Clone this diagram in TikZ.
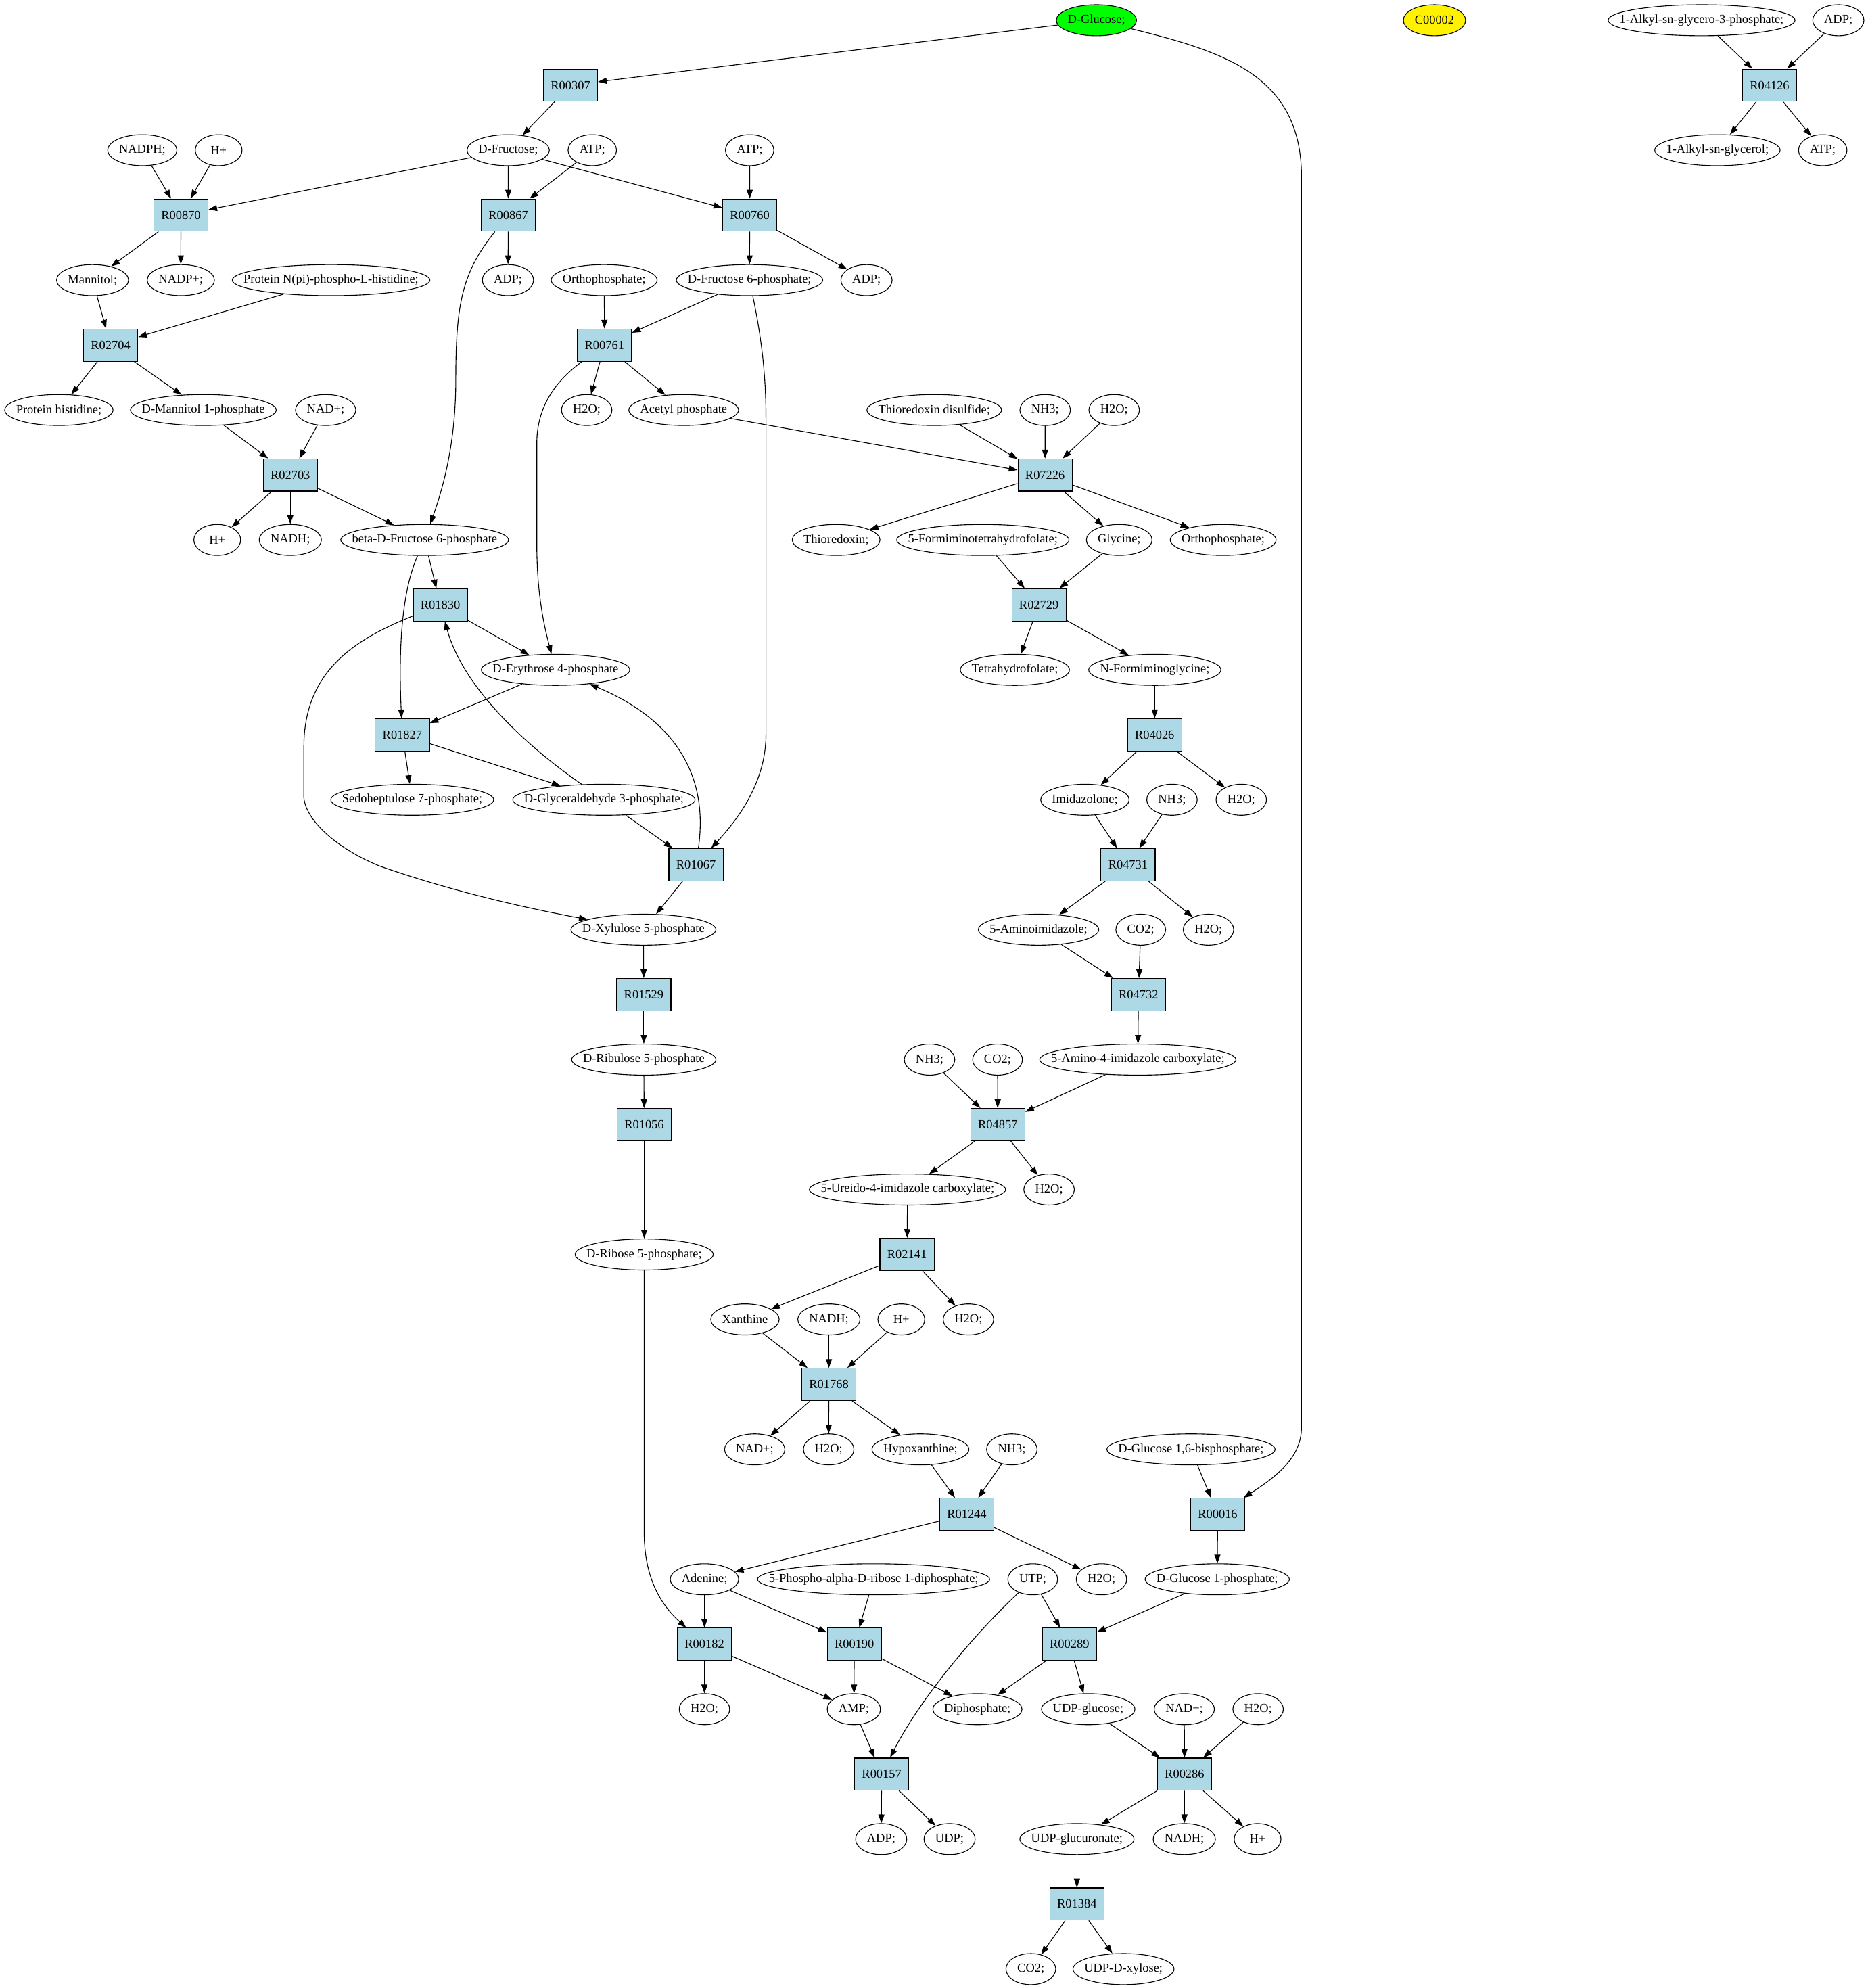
\documentclass[tikz,border=0pt]{standalone}
\usepackage{fontspec}
\setmainfont{Liberation Serif}
\usepackage{tikz}
\usetikzlibrary{shapes.geometric,arrows.meta}
\definecolor{rxnblue}{RGB}{173,216,230}
\newsavebox{\cpdbox}

\begin{document}
\begin{tikzpicture}[x=1pt, y=-1pt, line width=0.6pt, font=\fontsize{9.85}{11.8}\selectfont]
        \tikzstyle{reaction} = [rectangle, draw=black, fill=rxnblue, minimum width=42.8pt, minimum height=25.5pt, inner sep=0pt]
        \tikzstyle{compound} = [ellipse, draw=black, minimum width=37pt, minimum height=24.5pt, inner sep=0pt,
            execute at begin node={\setbox\cpdbox\hbox\bgroup},
            execute at end node={\egroup\makebox[\dimexpr(\wd\cpdbox+18pt)*707/1000\relax]{\usebox{\cpdbox}}}]
        \tikzstyle{arrow} = [->, >={Triangle[length=6.9pt,width=4.8pt]}]
        \useasboundingbox (0,0) rectangle (1475,1570);

        % row 0
        \node (glc) [compound, fill=green] at (866,16) {D-Glucose;};
        \node (c00002) [compound, fill=yellow] at (1133,16) {C00002};
        \node (alkylgp) [compound] at (1344,16) {1-Alkyl-sn-glycero-3-phosphate;};
        \node (adpA) [compound] at (1452,16) {ADP;};
        % row 1
        \node (r00307) [reaction] at (450.6,67.3) {R00307};
        \node (r04126) [reaction] at (1397.7,67.3) {R04126};
        % row 2
        \node (nadph) [compound] at (112.4,118.6) {NADPH;};
        \node (hA) [compound] at (172.7,118.6) {H+};
        \node (fru) [compound] at (401.4,118.6) {D-Fructose;};
        \node (atpA) [compound] at (467.8,118.6) {ATP;};
        \node (atpB) [compound] at (592.1,118.6) {ATP;};
        \node (alkylg) [compound] at (1356.5,118.6) {1-Alkyl-sn-glycerol;};
        \node (atpC) [compound] at (1439.7,118.6) {ATP;};
        % row 3
        \node (r00870) [reaction] at (142.9,169.9) {R00870};
        \node (r00867) [reaction] at (401.5,169.9) {R00867};
        \node (r00760) [reaction] at (592.2,169.9) {R00760};
        % row 4
        \node (mannitol) [compound] at (73.1,221.2) {Mannitol;};
        \node (nadpA) [compound] at (142.8,221.2) {NADP+;};
        \node (prothisp) [compound] at (261.5,221.2) {Protein N(pi)-phospho-L-histidine;};
        \node (adpB) [compound] at (401.2,221.2) {ADP;};
        \node (piA) [compound] at (477.2,221.2) {Orthophosphate;};
        \node (f6p) [compound] at (592,221.2) {D-Fructose 6-phosphate;};
        \node (adpC) [compound] at (684.4,221.2) {ADP;};
        % row 5
        \node (r02704) [reaction] at (87.4,272.5) {R02704};
        \node (r00761) [reaction] at (477.5,272.5) {R00761};
        % row 6
        \node (prothis) [compound] at (46.5,323.8) {Protein histidine;};
        \node (m1p) [compound] at (160.6,323.8) {D-Mannitol 1-phosphate};
        \node (nadA) [compound] at (257.2,323.8) {NAD+;};
        \node (h2oA) [compound] at (463.4,323.8) {H2O;};
        \node (acp) [compound] at (540,323.8) {Acetyl phosphate};
        \node (trxss) [compound] at (737.9,323.8) {Thioredoxin disulfide;};
        \node (nh3A) [compound] at (825.5,323.8) {NH3;};
        \node (h2oB) [compound] at (880,323.8) {H2O;};
        % row 7
        \node (r02703) [reaction] at (229.3,375.1) {R02703};
        \node (r07226) [reaction] at (825.4,375.1) {R07226};
        % row 8
        \node (hB) [compound] at (171.6,426.4) {H+};
        \node (nadhA) [compound] at (229.3,426.4) {NADH;};
        \node (bf6p) [compound] at (335.4,426.4) {beta-D-Fructose 6-phosphate};
        \node (trx) [compound] at (660.4,426.4) {Thioredoxin;};
        \node (fthf) [compound] at (776.3,426.4) {5-Formiminotetrahydrofolate;};
        \node (gly) [compound] at (884,426.4) {Glycine;};
        \node (piB) [compound] at (966.1,426.4) {Orthophosphate;};
        % row 9
        \node (r01830) [reaction] at (347.8,477.7) {R01830};
        \node (r02729) [reaction] at (820.6,477.7) {R02729};
        % row 10
        \node (e4p) [compound] at (438.8,529) {D-Erythrose 4-phosphate};
        \node (thf) [compound] at (801.6,529) {Tetrahydrofolate;};
        \node (figly) [compound] at (912.1,529) {N-Formiminoglycine;};
        % row 11
        \node (r01827) [reaction] at (317.8,580.3) {R01827};
        \node (r04026) [reaction] at (912,580.3) {R04026};
        % row 12
        \node (s7p) [compound] at (325.6,631.6) {Sedoheptulose 7-phosphate;};
        \node (g3p) [compound] at (477,631.6) {D-Glyceraldehyde 3-phosphate;};
        \node (imz) [compound] at (856.9,631.6) {Imidazolone;};
        \node (nh3B) [compound] at (925.7,631.6) {NH3;};
        \node (h2oC) [compound] at (980.4,631.6) {H2O;};
        % row 13
        \node (r01067) [reaction] at (549.7,682.9) {R01067};
        \node (r04731) [reaction] at (891,682.9) {R04731};
        % row 14
        \node (xu5p) [compound] at (508.2,734.2) {D-Xylulose 5-phosphate};
        \node (aimz) [compound] at (820.3,734.2) {5-Aminoimidazole;};
        \node (co2A) [compound] at (901,734.2) {CO2;};
        \node (h2oD) [compound] at (954.5,734.2) {H2O;};
        % row 15
        \node (r01529) [reaction] at (508.5,785.5) {R01529};
        \node (r04732) [reaction] at (899.2,785.5) {R04732};
        % row 16
        \node (ru5p) [compound] at (508.5,836.8) {D-Ribulose 5-phosphate};
        \node (nh3C) [compound] at (734.2,836.8) {NH3;};
        \node (co2B) [compound] at (787.9,836.8) {CO2;};
        \node (aic) [compound] at (898.7,836.8) {5-Amino-4-imidazole carboxylate;};
        % row 17
        \node (r01056) [reaction] at (508.8,888.1) {R01056};
        \node (r04857) [reaction] at (788.1,888.1) {R04857};
        % row 18
        \node (uic) [compound] at (716.8,939.4) {5-Ureido-4-imidazole carboxylate;};
        \node (h2oE) [compound] at (828.6,939.4) {H2O;};
        % row 19
        \node (r5p) [compound] at (508.8,990.7) {D-Ribose 5-phosphate;};
        \node (r02141) [reaction] at (716.4,990.7) {R02141};
        % row 20
        \node (xan) [compound] at (588.4,1042) {Xanthine};
        \node (nadhB) [compound] at (654.7,1042) {NADH;};
        \node (hC) [compound] at (711.9,1042) {H+};
        \node (h2oF) [compound] at (764.9,1042) {H2O;};
        % row 21
        \node (r01768) [reaction] at (654.7,1093.3) {R01768};
        % row 22
        \node (nadB) [compound] at (596.1,1144.6) {NAD+;};
        \node (h2oG) [compound] at (654.5,1144.6) {H2O;};
        \node (hyp) [compound] at (727,1144.6) {Hypoxanthine;};
        \node (nh3D) [compound] at (799.2,1144.6) {NH3;};
        \node (g16bp) [compound] at (940.7,1144.6) {D-Glucose 1,6-bisphosphate;};
        % row 23
        \node (r01244) [reaction] at (763.6,1195.9) {R01244};
        \node (r00016) [reaction] at (961.8,1195.9) {R00016};
        % row 24
        \node (ade) [compound] at (556.4,1247.2) {Adenine;};
        \node (prpp) [compound] at (690,1247.2) {5-Phospho-alpha-D-ribose 1-diphosphate;};
        \node (utp) [compound] at (815.7,1247.2) {UTP;};
        \node (h2oH) [compound] at (870,1247.2) {H2O;};
        \node (g1p) [compound] at (961.4,1247.2) {D-Glucose 1-phosphate;};
        % row 25
        \node (r00182) [reaction] at (556.4,1298.5) {R00182};
        \node (r00190) [reaction] at (674.8,1298.5) {R00190};
        \node (r00289) [reaction] at (844.7,1298.5) {R00289};
        % row 26
        \node (h2oI) [compound] at (556.4,1349.8) {H2O;};
        \node (amp) [compound] at (674.4,1349.8) {AMP;};
        \node (ppi) [compound] at (772,1349.8) {Diphosphate;};
        \node (udpg) [compound] at (859.5,1349.8) {UDP-glucose;};
        \node (nadC) [compound] at (935.4,1349.8) {NAD+;};
        \node (h2oJ) [compound] at (993.7,1349.8) {H2O;};
        % row 27
        \node (r00157) [reaction] at (696.4,1401.1) {R00157};
        \node (r00286) [reaction] at (935.6,1401.1) {R00286};
        % row 28
        \node (adpD) [compound] at (696,1452.4) {ADP;};
        \node (udp) [compound] at (750,1452.4) {UDP;};
        \node (udpgla) [compound] at (850.6,1452.4) {UDP-glucuronate;};
        \node (nadhC) [compound] at (935.4,1452.4) {NADH;};
        \node (hD) [compound] at (993.3,1452.4) {H+};
        % row 29
        \node (r01384) [reaction] at (850.6,1503.7) {R01384};
        % row 30
        \node (co2C) [compound] at (814.2,1555) {CO2;};
        \node (udpxyl) [compound] at (887.4,1555) {UDP-D-xylose;};

        \draw [arrow] (glc) -- (r00307);
        \draw [arrow] (glc) .. controls (968,41) and (1028,60) .. (1028,140) -- (1028,1127) .. controls (1028,1150) and (1010,1165) .. (r00016);
        \draw [arrow] (alkylgp) -- (r04126);
        \draw [arrow] (adpA) -- (r04126);
        \draw [arrow] (r04126) -- (alkylg);
        \draw [arrow] (r04126) -- (atpC);
        \draw [arrow] (r00307) -- (fru);
        \draw [arrow] (nadph) -- (r00870);
        \draw [arrow] (hA) -- (r00870);
        \draw [arrow] (fru) -- (r00870);
        \draw [arrow] (fru) -- (r00867);
        \draw [arrow] (atpA) -- (r00867);
        \draw [arrow] (fru) -- (r00760);
        \draw [arrow] (atpB) -- (r00760);
        \draw [arrow] (r00870) -- (mannitol);
        \draw [arrow] (r00870) -- (nadpA);
        \draw [arrow] (r00867) -- (adpB);
        \draw [arrow] (r00867) .. controls (365,215) and (360,240) .. (360,300) .. controls (360,350) and (350,385) .. (bf6p);
        \draw [arrow] (r00760) -- (f6p);
        \draw [arrow] (r00760) -- (adpC);
        \draw [arrow] (mannitol) -- (r02704);
        \draw [arrow] (prothisp) -- (r02704);
        \draw [arrow] (piA) -- (r00761);
        \draw [arrow] (f6p) -- (r00761);
        \draw [arrow] (f6p) .. controls (600,260) and (605,290) .. (605,330) -- (605,580) .. controls (605,620) and (580,650) .. (r01067);
        \draw [arrow] (r02704) -- (prothis);
        \draw [arrow] (r02704) -- (m1p);
        \draw [arrow] (r00761) -- (h2oA);
        \draw [arrow] (r00761) -- (acp);
        \draw [arrow] (r00761) .. controls (440,300) and (424,320) .. (424,350) -- (424,430) .. controls (424,470) and (430,495) .. (e4p);
        \draw [arrow] (m1p) -- (r02703);
        \draw [arrow] (nadA) -- (r02703);
        \draw [arrow] (acp) -- (r07226);
        \draw [arrow] (trxss) -- (r07226);
        \draw [arrow] (nh3A) -- (r07226);
        \draw [arrow] (h2oB) -- (r07226);
        \draw [arrow] (r02703) -- (hB);
        \draw [arrow] (r02703) -- (nadhA);
        \draw [arrow] (r02703) -- (bf6p);
        \draw [arrow] (r07226) -- (trx);
        \draw [arrow] (r07226) -- (gly);
        \draw [arrow] (r07226) -- (piB);
        \draw [arrow] (bf6p) -- (r01830);
        \draw [arrow] (bf6p) .. controls (316,470) and (315,520) .. (r01827);
        \draw [arrow] (fthf) -- (r02729);
        \draw [arrow] (gly) -- (r02729);
        \draw [arrow] (r01830) -- (e4p);
        \draw [arrow] (r01830) .. controls (280,505) and (240,530) .. (240,590) -- (240,630) .. controls (242,650) and (270,672) .. (300,684) .. controls (360,705) and (420,718) .. (xu5p);
        \draw [arrow] (r02729) -- (thf);
        \draw [arrow] (r02729) -- (figly);
        \draw [arrow] (e4p) -- (r01827);
        \draw [arrow] (g3p) .. controls (410,585) and (365,540) .. (r01830);
        \draw [arrow] (r01827) -- (s7p);
        \draw [arrow] (r01827) -- (g3p);
        \draw [arrow] (figly) -- (r04026);
        \draw [arrow] (g3p) -- (r01067);
        \draw [arrow] (r01067) .. controls (561,605) and (525,565) .. (e4p);
        \draw [arrow] (r01067) -- (xu5p);
        \draw [arrow] (r04026) -- (imz);
        \draw [arrow] (r04026) -- (h2oC);
        \draw [arrow] (imz) -- (r04731);
        \draw [arrow] (nh3B) -- (r04731);
        \draw [arrow] (r04731) -- (aimz);
        \draw [arrow] (r04731) -- (h2oD);
        \draw [arrow] (aimz) -- (r04732);
        \draw [arrow] (co2A) -- (r04732);
        \draw [arrow] (xu5p) -- (r01529);
        \draw [arrow] (r01529) -- (ru5p);
        \draw [arrow] (r04732) -- (aic);
        \draw [arrow] (ru5p) -- (r01056);
        \draw [arrow] (nh3C) -- (r04857);
        \draw [arrow] (co2B) -- (r04857);
        \draw [arrow] (aic) -- (r04857);
        \draw [arrow] (r04857) -- (uic);
        \draw [arrow] (r04857) -- (h2oE);
        \draw [arrow] (r01056) -- (r5p);
        \draw [arrow] (uic) -- (r02141);
        \draw [arrow] (r02141) -- (xan);
        \draw [arrow] (r02141) -- (h2oF);
        \draw [arrow] (r5p) -- (508.8,1210) .. controls (508.8,1250) and (525,1270) .. (r00182);
        \draw [arrow] (xan) -- (r01768);
        \draw [arrow] (nadhB) -- (r01768);
        \draw [arrow] (hC) -- (r01768);
        \draw [arrow] (r01768) -- (nadB);
        \draw [arrow] (r01768) -- (h2oG);
        \draw [arrow] (r01768) -- (hyp);
        \draw [arrow] (hyp) -- (r01244);
        \draw [arrow] (nh3D) -- (r01244);
        \draw [arrow] (g16bp) -- (r00016);
        \draw [arrow] (r01244) -- (ade);
        \draw [arrow] (r01244) -- (h2oH);
        \draw [arrow] (r00016) -- (g1p);
        \draw [arrow] (ade) -- (r00182);
        \draw [arrow] (ade) -- (r00190);
        \draw [arrow] (prpp) -- (r00190);
        \draw [arrow] (utp) -- (r00289);
        \draw [arrow] (utp) .. controls (765,1295) and (725,1345) .. (r00157);
        \draw [arrow] (g1p) -- (r00289);
        \draw [arrow] (r00182) -- (h2oI);
        \draw [arrow] (r00182) -- (amp);
        \draw [arrow] (r00190) -- (amp);
        \draw [arrow] (r00190) -- (ppi);
        \draw [arrow] (r00289) -- (ppi);
        \draw [arrow] (r00289) -- (udpg);
        \draw [arrow] (amp) -- (r00157);
        \draw [arrow] (udpg) -- (r00286);
        \draw [arrow] (nadC) -- (r00286);
        \draw [arrow] (h2oJ) -- (r00286);
        \draw [arrow] (r00157) -- (adpD);
        \draw [arrow] (r00157) -- (udp);
        \draw [arrow] (r00286) -- (udpgla);
        \draw [arrow] (r00286) -- (nadhC);
        \draw [arrow] (r00286) -- (hD);
        \draw [arrow] (udpgla) -- (r01384);
        \draw [arrow] (r01384) -- (co2C);
        \draw [arrow] (r01384) -- (udpxyl);
    \end{tikzpicture}
\end{document}
